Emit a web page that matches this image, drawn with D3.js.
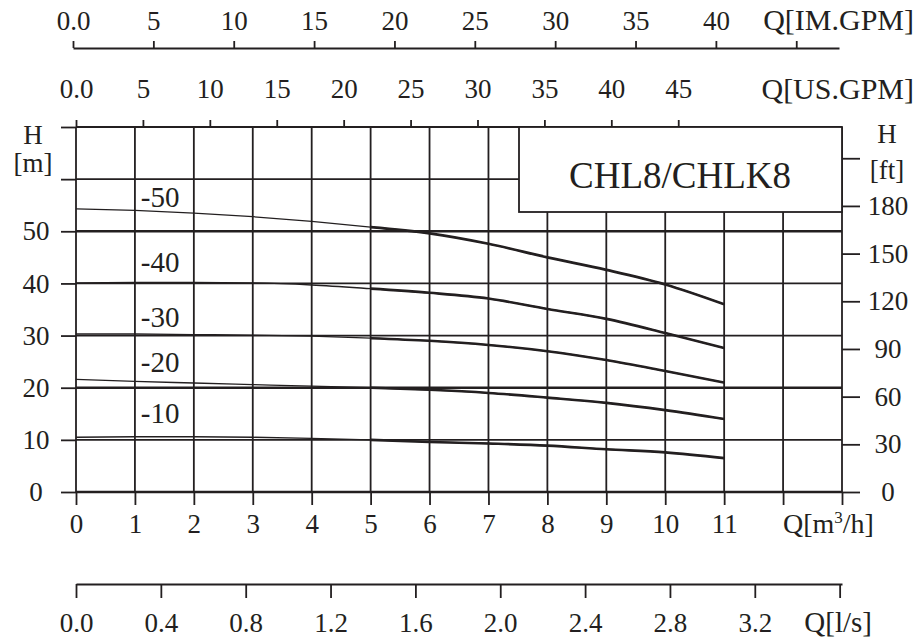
<!DOCTYPE html>
<html>
<head>
<meta charset="utf-8">
<script src="https://cdn.jsdelivr.net/npm/d3@7"></script>
<style>
  body { margin: 0; background: #fff; }
  text { font-family: "Liberation Serif", "Times New Roman", serif; fill: #231f20; }
</style>
</head>
<body>
<div id="chart"></div>
<script>
// Data
var flow = [0, 1, 2, 3, 4, 5, 6, 7, 8, 9, 10, 11];          // Q [m3/h]
var stages = ["-50", "-40", "-30", "-20", "-10"];
var head50 = [54.3, 54.0, 53.5, 52.8, 51.9, 50.8, 49.6, 47.6, 45.0, 42.6, 39.8, 36.0];
var head40 = [40.1, 40.2, 40.2, 40.1, 39.7, 39.0, 38.2, 37.1, 35.1, 33.2, 30.5, 27.6];
var head30 = [30.3, 30.3, 30.2, 30.1, 29.9, 29.5, 29.0, 28.2, 27.0, 25.3, 23.2, 21.0];
var head20 = [21.6, 21.2, 20.9, 20.6, 20.3, 20.0, 19.6, 19.0, 18.1, 17.1, 15.7, 14.0];
var head10 = [10.5, 10.6, 10.6, 10.5, 10.3, 10.0, 9.6, 9.3, 8.9, 8.2, 7.6, 6.5];
var labelHead = [54.7, 42.2, 31.6, 23.0, 13.2];            // where the stage names sit [m]

// Tick labels
var qTicks = d3.range(0, 14);          // m3/h grid
var hTicks = d3.range(0, 80, 10);      // m grid
var ftTicks = d3.range(0, 240, 30);
var usTicks = d3.range(0, 50, 5);
var imTicks = d3.range(0, 50, 5);
var lsTicks = [0, 0.4, 0.8, 1.2, 1.6, 2.0, 2.4, 2.8, 3.2, 3.6];

var width = 921, height = 639;
var plotL = 76, plotR = 842, plotT = 127, plotB = 492;
var ink = "#231f20";

var x = d3.scaleLinear().domain([0, 13]).range([plotL, plotR]);
var y = d3.scaleLinear().domain([0, 70]).range([plotB, plotT]);
var yFt = d3.scaleLinear().domain([0, 70 * 3.28084]).range([plotB, plotT]);
var xUs = d3.scaleLinear().domain([0, 13 * 4.40287]).range([plotL, plotR]);
var xIm = d3.scaleLinear().domain([0, 13 * 3.66615]).range([plotL - 3, plotR - 3]);
var xLs = d3.scaleLinear().domain([0, 13 / 3.6]).range([plotL, plotR]);

var svg = d3.select("#chart")
  .append("svg")
  .attr("width", width)
  .attr("height", height);

svg.append("rect").attr("width", width).attr("height", height).attr("fill", "#fff");

// grid
svg.append("g").selectAll("line")
  .data(qTicks)
  .enter()
  .append("line")
  .attr("x1", function(d) { return x(d); })
  .attr("x2", function(d) { return x(d); })
  .attr("y1", plotT)
  .attr("y2", plotB)
  .attr("stroke", ink)
  .attr("stroke-width", 1.8);

svg.append("g").selectAll("line")
  .data(hTicks)
  .enter()
  .append("line")
  .attr("x1", plotL)
  .attr("x2", plotR)
  .attr("y1", function(d) { return y(d); })
  .attr("y2", function(d) { return y(d); })
  .attr("stroke", ink)
  .attr("stroke-width", function(d) { return d == 50 || d == 20 || d == 0 ? 2.4 : 1.8; });

function styleAxis(g, size) {
  g.selectAll("line").attr("stroke", ink).attr("stroke-width", 1.8);
  g.selectAll("path").attr("stroke", ink).attr("stroke-width", 1.8);
  g.selectAll("text").style("font-size", size + "px").attr("fill", ink);
}

// bottom Q[m3/h]
var gx = svg.append("g")
  .attr("transform", "translate(0," + plotB + ")")
  .call(d3.axisBottom(x).tickValues(qTicks).tickSize(13).tickSizeOuter(0)
    .tickFormat(function(d) { return d <= 11 ? d : ""; }));
gx.select(".domain").remove();
gx.selectAll("text").attr("y", 41).attr("dy", 0);
styleAxis(gx, 27);

// left H[m]
var gy = svg.append("g")
  .attr("transform", "translate(" + plotL + ",0)")
  .call(d3.axisLeft(y).tickValues(hTicks).tickSize(15).tickSizeOuter(0)
    .tickFormat(function(d) { return d <= 50 ? d : ""; }));
gy.select(".domain").remove();
gy.selectAll("text").attr("x", -40).attr("text-anchor", "middle");
styleAxis(gy, 27);

// right H[ft]
var gf = svg.append("g")
  .attr("transform", "translate(" + plotR + ",0)")
  .call(d3.axisRight(yFt).tickValues(ftTicks).tickSize(18).tickSizeOuter(0)
    .tickFormat(function(d) { return d <= 180 ? d : ""; }));
gf.select(".domain").remove();
gf.selectAll("text").attr("x", 46).attr("text-anchor", "middle");
styleAxis(gf, 27);

// top US.GPM (on the frame)
var gu = svg.append("g")
  .attr("transform", "translate(0," + plotT + ")")
  .call(d3.axisTop(xUs).tickValues(usTicks).tickSize(7).tickSizeOuter(0)
    .tickFormat(function(d) { return d == 0 ? "0.0" : d; }));
gu.select(".domain").remove();
gu.selectAll("text").attr("y", -29).attr("dy", 0);
styleAxis(gu, 27);

// top IM.GPM
var gi = svg.append("g")
  .attr("transform", "translate(0,48)")
  .call(d3.axisTop(xIm).tickValues(imTicks).tickSize(7).tickSizeOuter(0)
    .tickFormat(function(d) { return d == 0 ? "0.0" : d <= 40 ? d : ""; }));
gi.selectAll("text").attr("y", -18).attr("dy", 0);
styleAxis(gi, 27);

// bottom l/s
var gl = svg.append("g")
  .attr("transform", "translate(0,584)")
  .call(d3.axisBottom(xLs).tickValues(lsTicks).tickSize(14).tickSizeOuter(0)
    .tickFormat(function(d) { return d < 3.5 ? d3.format(".1f")(d) : ""; }));
gl.selectAll("text").attr("y", 48).attr("dy", 0);
styleAxis(gl, 27);

// curves
var heads = [head50, head40, head30, head20, head10];
var line = d3.line()
  .x(function(d) { return x(d[0]); })
  .y(function(d) { return y(d[1]); })
  .curve(d3.curveMonotoneX);

heads.forEach(function(h, i) {
  var pts = flow.map(function(q, j) { return [q, h[j]]; });
  svg.append("path")
    .attr("d", line(pts))
    .attr("fill", "none")
    .attr("stroke", ink)
    .attr("stroke-width", 1.3);
  svg.append("path")
    .attr("d", line(pts.filter(function(p) { return p[0] >= 5; })))
    .attr("fill", "none")
    .attr("stroke", ink)
    .attr("stroke-width", 2.6);
  svg.append("text")
    .attr("x", x(1.1))
    .attr("y", y(labelHead[i]))
    .style("font-size", "29px")
    .text(stages[i]);
});

// model box
svg.append("rect")
  .attr("x", 519)
  .attr("y", plotT)
  .attr("width", plotR - 519)
  .attr("height", 212 - plotT)
  .attr("fill", "#fff")
  .attr("stroke", ink)
  .attr("stroke-width", 1.8);
svg.append("text")
  .attr("x", 680)
  .attr("y", 188)
  .attr("text-anchor", "middle")
  .style("font-size", "37px")
  .text("CHL8/CHLK8");

// axis titles
function title(t, xx, yy, size, anchor) {
  return svg.append("text")
    .attr("x", xx)
    .attr("y", yy)
    .attr("text-anchor", anchor || "middle")
    .style("font-size", size + "px")
    .text(t);
}
title("H", 33, 144, 27);
title("[m]", 33, 172, 27);
title("H", 887, 143, 27);
title("[ft]", 887, 179, 27);
title("Q[IM.GPM]", 914, 30, 30, "end");
title("Q[US.GPM]", 914, 99, 30, "end");
title("Q[l/s]", 872, 632, 29, "end");
var qm = title("Q[m", 783, 533, 28, "start");
qm.append("tspan").attr("dy", -10).style("font-size", "17px").text("3");
qm.append("tspan").attr("dy", 10).text("/h]");
</script>
</body>
</html>
